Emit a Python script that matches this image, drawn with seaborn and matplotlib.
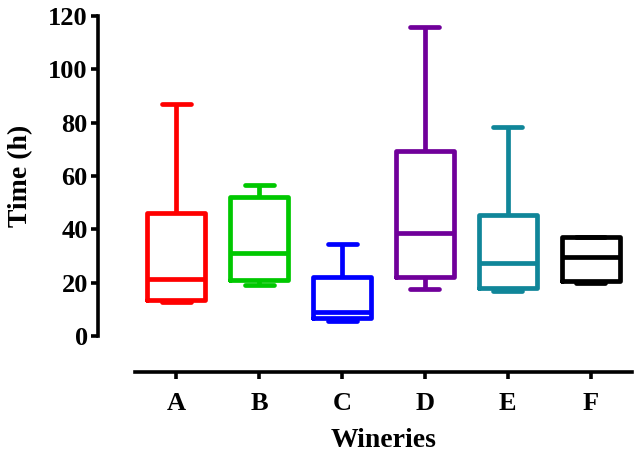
import matplotlib
matplotlib.use("Agg")
import matplotlib.pyplot as plt
import seaborn as sns
import pandas as pd

wineries = ["A", "B", "C", "D", "E", "F"]
mins    = [12.8, 19.0, 5.7, 17.6, 16.8, 20.0]
q1s     = [13.5, 21.0, 6.8, 22.0, 18.0, 20.5]
medians = [21.5, 31.0, 9.0, 38.5, 27.5, 29.5]
q3s     = [46.0, 52.0, 22.0, 69.5, 45.5, 37.0]
maxs    = [87.0, 56.5, 34.5, 116.0, 78.5, 37.0]
colors  = ["#FF0000", "#00C800", "#0000FF", "#70009A", "#108699", "#000000"]

rows = []
for w, a, b, c, d, e in zip(wineries, mins, q1s, medians, q3s, maxs):
    for v in (a, b, c, d, e):
        rows.append({"Winery": w, "Time": v})
df = pd.DataFrame(rows)

sns.set_style("ticks")
plt.rcParams["font.family"] = ["Liberation Serif", "DejaVu Serif"]
plt.rcParams["font.weight"] = "bold"
for key in ("text.color", "axes.labelcolor", "xtick.color", "ytick.color",
            "xtick.labelcolor", "ytick.labelcolor", "axes.edgecolor"):
    plt.rcParams[key] = "black"

fig = plt.figure(figsize=(6.38, 4.55), dpi=100)
ax = fig.add_axes([0.2116, 0.2615, 0.7790, 0.7033])

sns.boxplot(data=df, x="Winery", y="Time", hue="Winery", palette=colors,
            order=wineries, hue_order=wineries, fill=False, whis=(0, 100),
            width=0.7, linewidth=3.4, legend=False, ax=ax, dodge=False)

ax.set_ylim(0, 120)
ax.set_xlim(-0.5, 5.5)
ax.set_yticks([0, 20, 40, 60, 80, 100, 120])
ax.set_xlabel("Wineries", fontsize=20, fontweight="bold", labelpad=10, color="black")
ax.set_ylabel("Time (h)", fontsize=20, fontweight="bold", labelpad=11, color="black")
for lab in ax.get_xticklabels() + ax.get_yticklabels():
    lab.set_fontweight("bold")
    lab.set_color("black")
ax.tick_params(axis="both", labelsize=19, width=2.6, length=5, color="black",
               labelcolor="black")
ax.tick_params(axis="y", pad=2)
ax.tick_params(axis="x", pad=9)
ax.spines["top"].set_visible(False)
ax.spines["right"].set_visible(False)
for s in ("left", "bottom"):
    ax.spines[s].set_linewidth(2.6)
    ax.spines[s].set_color("black")
ax.spines["left"].set_position(("outward", 27))
ax.spines["bottom"].set_position(("outward", 26))

fig.savefig("out.png", dpi=100)
